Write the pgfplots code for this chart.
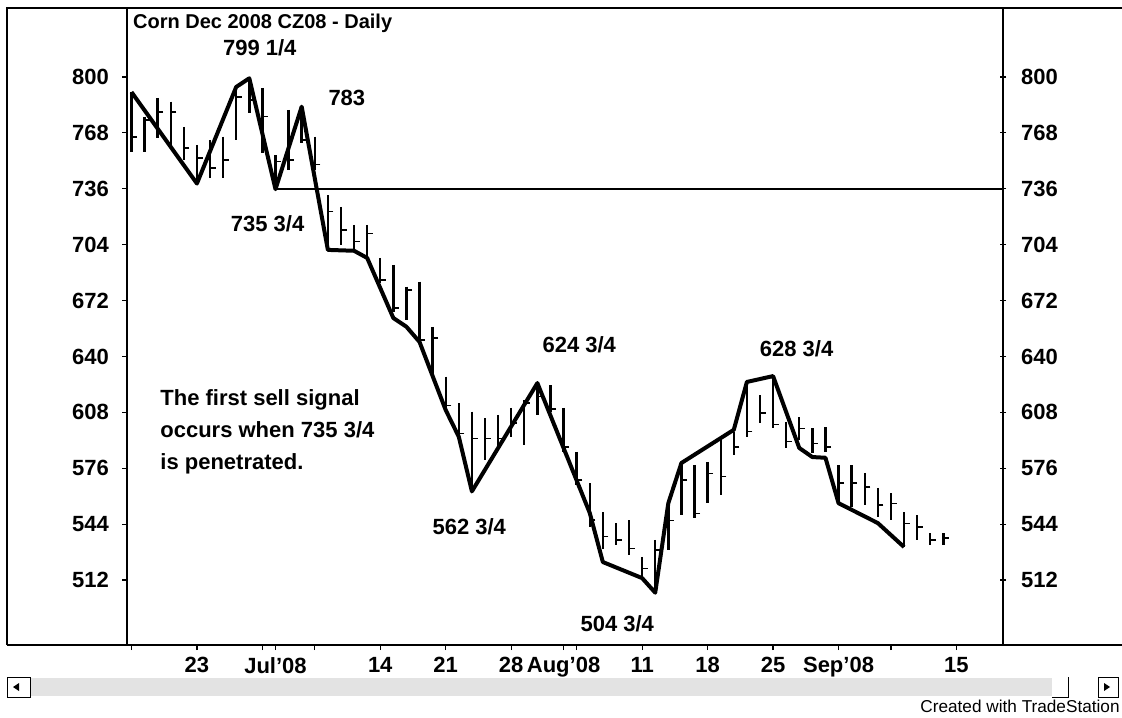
\documentclass[border=0pt]{standalone}
\usepackage{pgfplots}
\pgfplotsset{compat=1.18}
\usepackage{pgfplotstable}
\usepackage{fontspec}
\setmainfont{Liberation Sans}

\pgfplotstableread{
x high low close
0 791.6 757.2 765.8
1 777.3 757.2 775.4
2 788.0 765.1 780.1
3 785.9 761.1 780.0
4 771.5 752.5 759.3
5 761.1 739.3 753.6
6 763.9 742.2 748.0
7 765.8 742.2 752.5
8 794.4 763.9 788.7
9 799.25 779.4 786.8
10 793.7 756.5 777.3
11 755.3 735.75 751.5
12 781.1 746.7 752.5
13 783.0 762.2 763.9
14 765.8 746.7 750.0
15 732.4 702.7 722.9
16 725.7 703.8 712.4
17 715.3 700.9 705.7
18 715.3 697.1 710.5
19 696.4 682.0 683.8
20 692.4 665.6 667.6
21 680.0 660.9 678.0
22 682.8 648.4 649.4
23 657.0 628.4 650.4
24 628.4 609.3 612.0
25 613.3 592.2 596.0
26 608.4 562.75 593.0
27 604.7 580.7 593.0
28 606.5 587.6 593.0
29 610.5 593.9 601.9
30 615.1 589.3 613.3
31 624.75 606.5 617.0
32 623.6 608.2 610.0
33 610.5 585.3 588.0
34 585.3 566.4 569.3
35 567.5 542.3 546.3
36 550.9 530.0 537.0
37 544.6 532.0 535.0
38 546.3 526.3 530.0
39 525.2 513.7 518.7
40 535.0 504.75 529.2
41 557.8 529.2 546.0
42 579.0 549.2 569.3
43 577.9 547.5 550.2
44 579.6 556.1 573.1
45 592.2 560.7 571.2
46 596.7 583.6 588.0
47 625.0 593.9 597.0
48 617.9 601.9 607.5
49 628.75 599.0 601.0
50 602.5 587.6 591.2
51 605.3 592.2 598.8
52 599.0 584.7 590.2
53 599.6 585.3 588.3
54 577.8 556.1 567.4
55 577.8 553.8 567.4
56 573.3 554.9 565.4
57 564.7 548.1 555.0
58 561.8 546.3 555.9
59 550.9 530.9 544.4
60 549.2 534.9 542.5
61 538.9 532.0 534.9
62 538.9 532.0 535.9
}\bars

\begin{document}
\begin{tikzpicture}
\useasboundingbox (0,0) rectangle (561pt,358.5pt);
% outer frame
\draw[line width=0.8pt] (3.5pt,36pt) -- (3.5pt,354.5pt) -- (561pt,354.5pt);
\draw[line width=0.8pt] (3.5pt,36pt) -- (561pt,36pt);
% scrollbar
\fill[gray!22] (15pt,10.5pt) rectangle (526pt,19.5pt);
\draw[line width=0.5pt, fill=white] (3.5pt,10pt) rectangle (15pt,20pt);
\fill (6.5pt,15pt) -- (9.5pt,17pt) -- (9.5pt,13pt) -- cycle;
\draw[line width=0.5pt] (526pt,10pt) -- (534pt,10pt) -- (534pt,20pt);
\draw[line width=0.5pt, fill=white] (549pt,10pt) rectangle (559pt,20pt);
\fill (555pt,15pt) -- (552pt,17pt) -- (552pt,13pt) -- cycle;
\node[anchor=east, font=\fontsize{8.6}{10}\selectfont, inner sep=0pt] at (560pt,5.3pt) {Created with TradeStation};

\begin{axis}[
  at={(63.5pt,36pt)}, anchor=south west,
  width=438pt, height=318.5pt, scale only axis,
  xmin=-0.34, xmax=66.56, ymin=474.8, ymax=839.5,
  axis line style={line width=0.8pt},
  ytick={512,544,576,608,640,672,704,736,768,800},
  ytick pos=left,
  xtick pos=bottom,
  tick align=outside,
  major tick length=2.5pt,
  tick style={line width=0.6pt, black},
  xtick={0,5,10,11,14,19,24,29,33,34,39,44,49,54,58,63},
  xticklabels={,23,,Jul'08,,14,21,28,Aug'08,,11,18,25,Sep'08,,15},
  /pgf/number format/assume math mode=true,
  ticklabel style={font=\bfseries\fontsize{11}{13}\selectfont},
  yticklabel style={xshift=-3pt},
  clip=false,
]
% 736 line
\addplot[line width=1.2pt, black] coordinates {(11,735.75) (66.56,735.75)};
% bars
\addplot[draw=none, mark=none, error bars/.cd, y dir=minus, y explicit, error mark=none,
  error bar style={line width=1.2pt, black}]
  table[x=x, y=high, y error expr=\thisrow{high}-\thisrow{low}] {\bars};
% close ticks
\addplot[only marks, mark=-, mark size=1.4pt, black,
  mark options={line width=0.8pt, xshift=1.4pt}]
  table[x=x, y=close] {\bars};
% swing line
\addplot[line width=2pt, black, line join=round] coordinates {
(0,791.4) (5,739) (8,794.3) (9,799.25) (11,735.75) (13,783) (15,701) (17,700.5)
(18,696.4) (20,662) (21,657) (22,648.3) (24,609.3) (25,594) (26,562.75) (31,624.75)
(33,587.6) (35,550.4) (36,522.3) (39,513.1) (40,504.75) (41,556) (42,579) (46,598)
(47,625.4) (49,628.75) (51,587.6) (52,582.4) (53,582) (54,556) (57,544.6) (59,530.9)
};
% annotations
\node[anchor=west, font=\bfseries\fontsize{10}{12}\selectfont, inner sep=0pt] at (axis cs:0.1,831) {Corn Dec 2008 CZ08 - Daily};
\begin{scope}[every node/.style={font=\bfseries\fontsize{11}{13}\selectfont, inner sep=0pt}]
\node at (axis cs:9.8,816.6) {799 1/4};
\node at (axis cs:16.45,788) {783};
\node at (axis cs:10.4,715.8) {735 3/4};
\node at (axis cs:34.2,646.5) {624 3/4};
\node at (axis cs:25.8,542.3) {562 3/4};
\node at (axis cs:37.1,486.8) {504 3/4};
\node at (axis cs:50.8,644.3) {628 3/4};
\node[anchor=west, align=left, font=\bfseries\fontsize{11}{16}\selectfont] at (axis cs:2.18,596.7)
  {The first sell signal\\occurs when 735 3/4\\is penetrated.};
\end{scope}
\end{axis}

\begin{axis}[
  at={(63.5pt,36pt)}, anchor=south west,
  width=438pt, height=318.5pt, scale only axis,
  xmin=-0.34, xmax=66.56, ymin=474.8, ymax=839.5,
  axis x line=none,
  axis y line*=right,
  axis line style={line width=0.8pt, -},
  ytick={512,544,576,608,640,672,704,736,768,800},
  tick align=center,
  major tick length=3pt,
  tick style={line width=0.6pt, black},
  /pgf/number format/assume math mode=true,
  ticklabel style={font=\bfseries\fontsize{11}{13}\selectfont},
  yticklabel style={xshift=4pt},
]
\end{axis}
\end{tikzpicture}
\end{document}
